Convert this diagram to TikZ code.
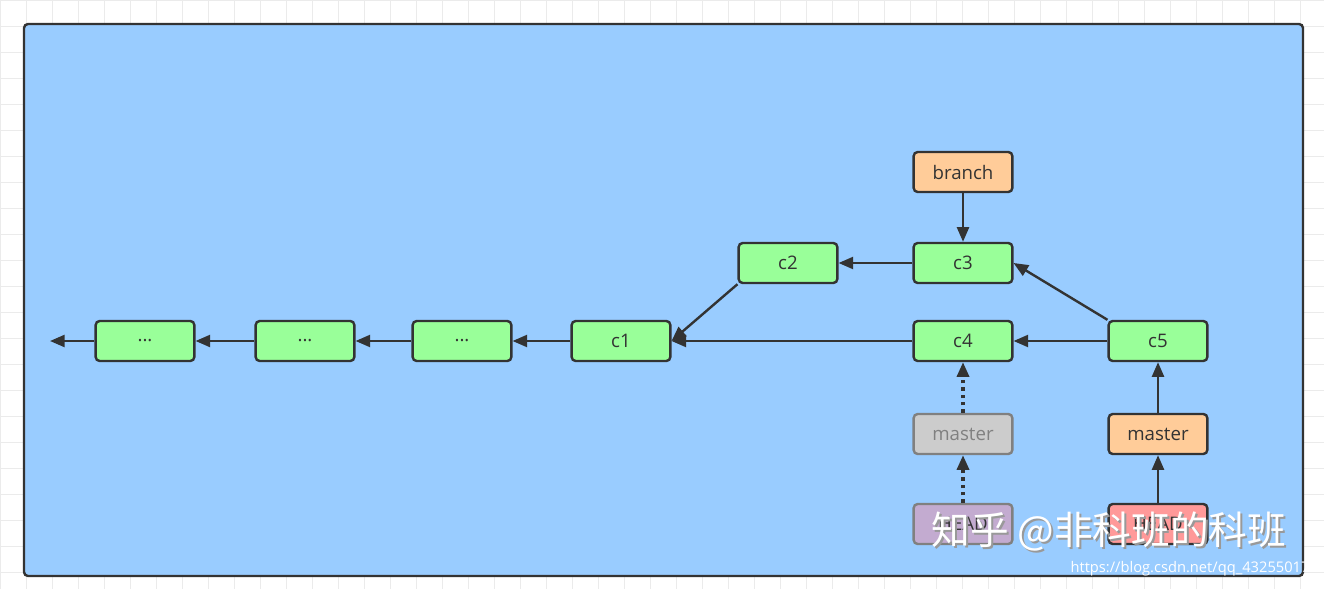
\documentclass[tikz,border=0pt]{standalone}
\usepackage{fontspec}
\setmainfont{Open Sans}
\newfontfamily\cjk{Noto Sans CJK SC}
\usetikzlibrary{arrows.meta}
\definecolor{bg}{HTML}{99CCFF}
\definecolor{grn}{HTML}{99FF99}
\definecolor{org}{HTML}{FFCC99}
\definecolor{gry}{HTML}{CCCCCC}
\definecolor{pur}{HTML}{C3ABD0}
\definecolor{red}{HTML}{FF9999}
\definecolor{ln}{HTML}{333333}
\begin{document}
\begin{tikzpicture}[x=0.75pt,y=-0.75pt,
  box/.style={draw=ln,line width=1.8pt,rounded corners=3pt,minimum width=74pt,minimum height=30pt,font=\fontsize{14}{16}\selectfont,text=ln},
  c/.style={box,fill=grn},
  arr/.style={draw=ln,line width=1.8pt,-{Triangle[length=11pt,width=9pt]}},
  dot/.style={arr,line width=2.5pt,dash pattern=on 2.5pt off 3pt}]
\useasboundingbox (0,0) rectangle (1324,589);
\fill[white] (0,0) rectangle (1324,589);
\foreach \i in {0,26,...,1324} \draw[black!8] (\i,0) -- (\i,589);
\foreach \j in {0,26,...,589} \draw[black!8] (0,\j) -- (1324,\j);
\draw[ln,line width=1.8pt,fill=bg,rounded corners=3pt] (24,24) rectangle (1303,576);
\node[c] (d1) at (145,341) {...};
\node[c] (d2) at (305,341) {...};
\node[c] (d3) at (462,341) {...};
\node[c] (c1) at (621,341) {c1};
\node[c] (c2) at (788,263) {c2};
\node[c] (c3) at (963,263) {c3};
\node[c] (c4) at (963,341) {c4};
\node[c] (c5) at (1158,341) {c5};
\node[box,fill=org] (br) at (963,172) {branch};
\node[box,fill=gry,draw=gray,text=gray] (m1) at (963,434) {master};
\node[box,fill=org] (m2) at (1158,434) {master};
\node[box,fill=pur,draw=gray] (h1) at (963,524) {HEAD};
\node[box,fill=red] (h2) at (1158,524) {HEAD};
\coordinate (end) at (50,341);
\draw[arr] (d1) -- (end);
\draw[arr] (d2) -- (d1);
\draw[arr] (d3) -- (d2);
\draw[arr] (c1) -- (d3);
\draw[arr] (c2.south west) -- (c1.east);
\draw[arr] (c3) -- (c2);
\draw[arr] (c4) -- (c1);
\draw[arr] (c5) -- (c4);
\draw[arr] (c5.north west) -- (c3.east);
\draw[arr] (br) -- (c3);
\draw[arr] (m2) -- (c5);
\draw[arr] (h2) -- (m2);
\draw[dot] (m1) -- (c4);
\draw[dot] (h1) -- (m1);
\node[text=black!40,font=\cjk\fontsize{29}{30}\selectfont] at (1111,534) {知乎 @非科班的科班};
\node[text=white,font=\cjk\fontsize{29}{30}\selectfont] at (1109,532) {知乎 @非科班的科班};
\node[text=white,font=\fontsize{11}{12}\selectfont] at (1190,569) {https://blog.csdn.net/qq\_43255017};
\end{tikzpicture}
\end{document}
